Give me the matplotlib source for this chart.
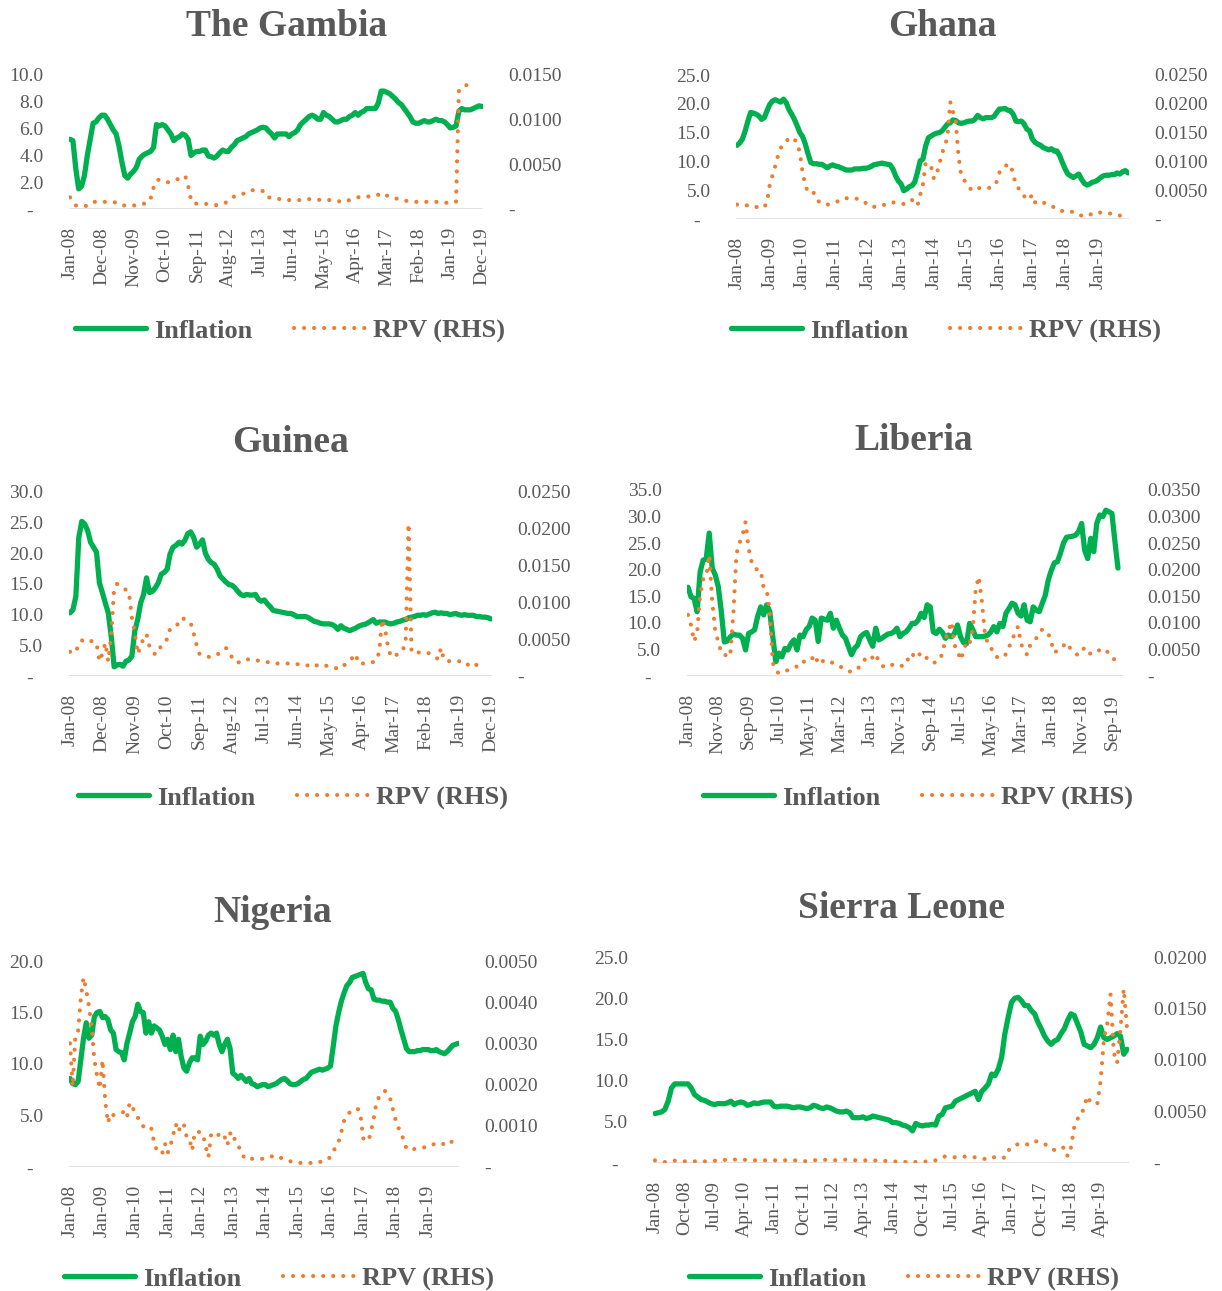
import numpy as np
import pandas as pd
import matplotlib
matplotlib.use("Agg")
import matplotlib.pyplot as plt
from matplotlib.ticker import FuncFormatter

plt.rcParams['font.family'] = ['Liberation Serif', 'DejaVu Serif']

nan = np.nan
months = pd.date_range('2008-01-01', periods=144, freq='MS')
month_labels = months.strftime('%b-%y')

# ---- data (inflation in %, RPV in thousandths) ----
gambia_infl = [5.2, 5.1, 3.0, 1.5, 1.7, 2.5, 4.0, 5.2, 6.4, 6.5, 6.8, 7.0,
               7.0, 6.7, 6.3, 5.9, 5.6, 4.7, 3.5, 2.5, 2.3, 2.6, 2.8, 3.1,
               3.7, 3.95, 4.1, 4.2, 4.3, 4.6, 6.3, 6.2, 6.3, 6.2, 5.9, 5.6,
               5.1, 5.3, 5.4, 5.6, 5.5, 5.2, 4.0, 4.2, 4.3, 4.3, 4.4, 4.4,
               3.95, 3.9, 3.8, 3.95, 4.2, 4.4, 4.3, 4.3, 4.6, 4.8, 5.1, 5.2,
               5.3, 5.4, 5.6, 5.7, 5.8, 5.9, 6.05, 6.1, 6.05, 5.8, 5.6, 5.3,
               5.6, 5.6, 5.6, 5.6, 5.4, 5.6, 5.7, 5.9, 6.3, 6.5, 6.7, 6.9,
               7.0, 6.9, 6.7, 6.7, 7.2, 7.0, 6.9, 6.7, 6.5, 6.5, 6.6, 6.7,
               6.7, 6.9, 7.0, 7.2, 7.0, 7.2, 7.3, 7.5, 7.5, 7.5, 7.5, 7.9,
               8.8, 8.8, 8.7, 8.6, 8.4, 8.2, 7.95, 7.8, 7.5, 7.2, 6.9, 6.5,
               6.4, 6.4, 6.5, 6.6, 6.5, 6.5, 6.6, 6.7, 6.6, 6.6, 6.5, 6.3,
               6.05, 6.1, 6.2, 7.3, 7.5, 7.4, 7.4, 7.4, 7.5, 7.6, 7.7, 7.65]
gambia_rpv = [1.3, 0.8, 0.4, 0.35, 0.3, 0.3, 0.4, 0.6, 0.8, 0.8, 0.8, 0.8,
              0.8, 0.8, 0.8, 0.8, 0.7, 0.5, 0.4, 0.4, 0.4, 0.4, 0.4, 0.4,
              0.5, 0.6, 0.6, 0.7, 1.2, 2.4, 3.2, 3.3, 3.2, 3.1, 3.0, 3.1,
              3.2, 3.3, 3.4, 3.6, 3.7, 2.6, 1.0, 0.6, 0.6, 0.6, 0.6, 0.6,
              0.5, 0.45, 0.4, 0.45, 0.5, 0.6, 0.7, 0.9, 1.2, 1.4, 1.5, 1.6,
              1.7, 1.8, 1.9, 2.1, 2.1, 2.1, 2.1, 2.0, 1.4, 1.3, 1.25, 1.2,
              1.15, 1.1, 1.05, 1.0, 1.0, 1.0, 1.0, 1.0, 1.0, 1.0, 1.05, 1.1,
              1.1, 1.1, 1.05, 1.0, 1.0, 1.0, 1.0, 1.0, 0.95, 0.9, 0.8, 0.8,
              0.9, 1.0, 1.1, 1.2, 1.3, 1.4, 1.4, 1.4, 1.4, 1.4, 1.5, 1.6,
              1.8, 1.7, 1.5, 1.4, 1.3, 1.2, 1.1, 1.0, 0.95, 0.9, 0.85, 0.8,
              0.8, 0.8, 0.8, 0.8, 0.8, 0.8, 0.8, 0.8, 0.8, 0.75, 0.7, 0.7,
              0.7, 0.75, 0.8, 13.3, 13.6, 13.8, 13.9, 13.9, 13.9, 13.9, nan, nan]

ghana_infl = [12.8, 13.2, 13.9, 15.3, 17.0, 18.5, 18.4, 18.2, 17.9, 17.3, 17.6, 18.8,
              19.9, 20.5, 20.7, 20.5, 20.3, 20.8, 20.2, 19.0, 18.2, 17.3, 16.2, 15.0,
              14.3, 13.0, 11.3, 9.8, 9.6, 9.6, 9.5, 9.5, 9.2, 8.9, 9.2, 9.4,
              9.2, 9.1, 8.9, 8.7, 8.5, 8.5, 8.5, 8.7, 8.7, 8.7, 8.8, 8.8,
              8.9, 9.1, 9.4, 9.5, 9.6, 9.7, 9.6, 9.5, 9.4, 8.7, 7.5, 6.6,
              6.1, 4.9, 5.2, 5.6, 5.8, 6.4, 8.1, 10.1, 10.4, 12.7, 14.1, 14.4,
              14.7, 14.9, 15.0, 15.3, 15.9, 16.5, 16.7, 17.2, 17.1, 16.7, 16.6, 16.7,
              16.9, 17.0, 17.0, 17.3, 18.0, 17.6, 17.4, 17.6, 17.6, 17.6, 17.8, 18.5,
              19.1, 19.1, 19.2, 18.9, 18.8, 18.2, 17.0, 16.9, 17.0, 16.5, 15.6, 15.3,
              13.9, 13.3, 13.0, 12.8, 12.4, 12.2, 12.0, 12.2, 11.8, 11.8, 11.0, 9.8,
              8.7, 7.8, 7.5, 7.2, 7.5, 7.8, 6.9, 6.2, 5.9, 6.1, 6.4, 6.5,
              6.8, 7.2, 7.5, 7.6, 7.6, 7.7, 7.7, 8.0, 7.8, 8.2, 8.4, 8.0]
ghana_rpv = [2.5, 2.4, 2.3, 2.3, 2.4, 2.4, 2.3, 2.1, 2.0, 2.0, 2.0, 3.0,
             6.0, 7.6, 9.2, 11.0, 12.3, 13.2, 13.5, 14.0, 14.2, 13.8, 13.3, 11.5,
             8.0, 5.9, 4.6, 4.5, 4.6, 3.5, 3.0, 2.7, 2.5, 2.5, 2.6, 2.8,
             2.9, 3.1, 3.4, 3.6, 3.6, 3.6, 3.6, 3.6, 3.5, 3.4, 3.2, 2.8,
             2.4, 2.1, 2.1, 2.2, 2.3, 2.3, 2.5, 2.7, 2.9, 2.9, 2.8, 2.8,
             2.7, 2.6, 2.6, 2.9, 3.3, 2.8, 2.3, 4.2, 6.0, 9.8, 9.4, 9.1,
             7.0, 7.8, 9.5, 11.5, 12.5, 14.5, 20.3, 18.6, 16.9, 11.0, 7.5, 6.8,
             6.2, 5.5, 4.9, 5.1, 5.3, 5.4, 5.4, 5.4, 5.4, 5.4, 5.8, 6.5,
             8.1, 8.9, 9.2, 9.4, 9.5, 7.8, 5.9, 5.3, 4.9, 4.0, 3.3, 3.6,
             4.2, 2.9, 3.0, 3.2, 2.9, 2.6, 2.4, 2.3, 2.0, 1.7, 1.4, 1.4,
             1.4, 1.4, 1.4, 1.1, 0.8, 0.7, 0.6, 0.5, 0.5, 0.7, 1.0, 1.2,
             1.2, 1.1, 1.0, 1.0, 1.0, 0.9, 0.8, 0.6, 0.6, nan, nan, nan]

guinea_infl = [10.3, 10.8, 13.0, 22.6, 25.2, 24.8, 23.7, 21.8, 21.0, 20.2, 15.2, 13.6,
               11.9, 10.3, 6.5, 1.5, 1.8, 1.9, 1.6, 2.4, 2.6, 3.2, 7.3, 9.2,
               11.9, 13.3, 16.0, 13.6, 13.8, 14.4, 15.2, 16.6, 16.9, 17.4, 19.9, 21.0,
               21.3, 21.8, 21.5, 22.1, 23.2, 23.5, 22.6, 21.0, 21.5, 22.2, 20.0, 19.0,
               18.5, 18.2, 17.4, 16.3, 15.8, 15.3, 14.9, 14.8, 14.4, 13.8, 13.3, 13.1,
               13.3, 13.2, 13.2, 13.3, 12.5, 12.2, 12.4, 11.8, 11.3, 10.7, 10.6, 10.5,
               10.4, 10.3, 10.2, 10.2, 10.0, 9.7, 9.7, 9.7, 9.7, 9.5, 9.2, 8.9,
               8.8, 8.6, 8.5, 8.5, 8.5, 8.4, 8.1, 7.6, 8.2, 7.8, 7.6, 7.4,
               7.6, 7.8, 8.1, 8.3, 8.4, 8.6, 8.9, 9.2, 8.6, 8.8, 8.8, 8.8,
               8.6, 8.5, 8.6, 8.8, 8.9, 9.1, 9.2, 9.5, 9.6, 9.7, 9.9, 9.9,
               10.0, 9.9, 10.1, 10.3, 10.4, 10.2, 10.3, 10.2, 10.2, 10.0, 10.1, 10.2,
               10.0, 9.9, 10.0, 9.9, 9.9, 9.9, 9.7, 9.7, 9.6, 9.6, 9.5, 9.3]
guinea_rpv = [3.3, 3.2, 3.2, 4.5, 4.8, 5.0, 5.0, 4.8, 4.6, 4.5, 2.0, 3.0,
              4.5, 2.0, 5.5, 12.0, 12.5, 12.2, 12.0, 11.7, 11.4, 8.0, 6.0, 3.0,
              4.0, 5.2, 5.7, 4.0, 3.4, 2.9, 3.4, 4.1, 4.6, 5.0, 6.4, 6.7,
              6.8, 7.2, 7.9, 7.7, 7.4, 7.2, 5.8, 4.2, 3.0, 2.8, 2.7, 2.6,
              2.6, 2.7, 2.9, 3.2, 3.5, 3.8, 3.0, 2.6, 2.0, 1.8, 2.0, 2.2,
              2.3, 2.2, 2.1, 2.1, 2.1, 2.0, 2.0, 1.9, 1.8, 1.7, 1.7, 1.7,
              1.7, 1.7, 1.7, 1.7, 1.7, 1.6, 1.6, 1.5, 1.5, 1.4, 1.3, 1.2,
              1.5, 1.6, 1.5, 1.4, 1.3, 1.2, 1.1, 1.0, 1.0, 1.4, 1.8, 2.1,
              2.5, 3.0, 1.7, 1.7, 1.7, 1.7, 1.8, 1.9, 2.1, 3.2, 7.7, 6.4,
              4.0, 2.6, 2.7, 2.9, 3.0, 3.5, 4.5, 20.7, 3.2, 3.2, 3.2, 3.2,
              3.1, 3.1, 3.1, 2.9, 2.6, 2.3, 3.8, 2.2, 2.1, 2.0, 2.0, 2.0,
              2.0, 2.0, 2.0, 1.6, 1.2, 1.3, 1.5, 1.6, 1.6, nan, nan, nan]

liberia_infl = [16.7, 14.9, 14.6, 12.1, 19.6, 21.8, 22.0, 26.9, 20.3, 19.0, 16.8, 12.1,
                6.4, 6.6, 7.4, 7.9, 7.7, 7.7, 7.1, 4.9, 8.0, 8.3, 8.7, 11.2,
                13.0, 11.5, 13.4, 12.1, 7.4, 2.7, 4.3, 3.6, 5.2, 4.9, 6.1, 6.8,
                4.9, 7.7, 7.4, 8.7, 9.3, 10.9, 10.5, 6.5, 10.9, 10.7, 10.5, 11.8,
                9.0, 10.5, 9.0, 7.7, 7.1, 5.5, 4.0, 5.2, 5.8, 7.4, 7.9, 8.2,
                6.8, 5.6, 9.0, 6.8, 7.1, 7.5, 7.9, 8.0, 8.3, 9.0, 7.4, 8.0,
                8.3, 9.0, 9.9, 9.9, 10.5, 11.8, 11.0, 13.4, 13.0, 8.3, 8.0, 8.8,
                8.2, 7.1, 7.7, 7.4, 8.0, 9.6, 7.4, 6.3, 6.1, 9.9, 8.8, 7.4,
                7.4, 7.4, 7.5, 7.7, 8.3, 9.3, 8.3, 9.9, 9.3, 11.8, 12.7, 13.7,
                13.4, 11.8, 11.3, 13.4, 10.5, 10.2, 13.0, 12.4, 12.1, 13.7, 15.2, 18.1,
                19.9, 21.3, 21.5, 23.1, 25.0, 26.1, 26.2, 26.3, 26.5, 27.2, 28.7, 23.7,
                22.1, 25.9, 23.4, 28.7, 30.3, 30.0, 31.2, 30.9, 30.6, 25.3, 20.3, nan]
liberia_rpv = [11.5, 9.6, 6.5, 8.0, 15.2, 18.2, 18.6, 22.8, 14.0, 8.3, 6.5, 4.3,
               4.2, 3.5, 4.2, 12.0, 23.0, 25.0, 26.5, 29.0, 24.0, 21.5, 20.3, 20.0,
               19.9, 16.5, 16.2, 12.0, 2.5, 1.0, 0.5, 0.7, 0.9, 1.1, 1.3, 1.6,
               1.8, 2.7, 2.7, 2.7, 2.7, 3.3, 4.0, 2.2, 2.6, 3.0, 2.9, 2.7,
               2.4, 2.1, 1.8, 1.6, 1.2, 0.9, 0.8, 1.0, 1.3, 2.1, 2.8, 3.6,
               3.2, 3.5, 4.2, 2.7, 2.0, 1.6, 1.8, 2.0, 2.2, 2.0, 1.8, 2.0,
               2.1, 3.8, 4.3, 3.3, 3.8, 4.4, 3.8, 3.3, 2.9, 2.4, 2.7, 3.0,
               4.2, 6.9, 8.5, 10.2, 5.8, 4.9, 3.0, 4.6, 6.5, 6.1, 8.5, 16.2,
               18.7, 14.4, 8.3, 6.0, 5.5, 4.0, 3.6, 3.3, 3.6, 4.1, 5.5, 6.5,
               8.3, 9.3, 6.0, 4.9, 4.0, 5.8, 6.4, 7.1, 7.8, 8.8, 8.4, 8.0,
               6.3, 4.4, 4.8, 5.2, 5.7, 6.3, 5.4, 4.6, 4.2, 3.9, 4.6, 5.4,
               4.8, 4.1, 4.4, 4.6, 4.9, 5.2, 4.8, 4.3, 3.8, 2.9, nan, nan]

nigeria_infl = [8.6, 8.1, 8.0, 8.3, 10.4, 12.5, 14.0, 12.5, 12.8, 14.6, 15.0, 15.1,
                14.5, 14.6, 14.3, 13.3, 13.0, 11.4, 11.2, 11.1, 10.4, 12.0, 13.0, 14.1,
                14.6, 15.8, 15.1, 15.0, 13.0, 14.1, 13.0, 13.7, 13.5, 13.3, 12.7, 11.9,
                12.4, 11.4, 12.8, 11.2, 12.4, 10.7, 9.6, 9.3, 10.1, 10.6, 10.6, 10.4,
                12.7, 11.9, 12.2, 12.8, 13.0, 12.8, 13.0, 11.9, 11.2, 11.9, 12.4, 11.5,
                9.1, 8.9, 8.6, 8.9, 8.6, 8.3, 8.6, 8.1, 8.0, 7.8, 7.9, 8.0,
                8.0, 7.8, 7.9, 8.0, 8.1, 8.3, 8.5, 8.6, 8.4, 8.1, 8.0, 8.0,
                8.1, 8.3, 8.5, 8.6, 8.9, 9.2, 9.3, 9.4, 9.5, 9.4, 9.5, 9.6,
                9.8, 11.7, 13.7, 15.0, 16.1, 16.9, 17.6, 17.9, 18.4, 18.5, 18.6, 18.7,
                18.8, 17.9, 17.3, 17.2, 16.3, 16.2, 16.2, 16.1, 16.1, 16.0, 16.0, 15.4,
                15.1, 14.3, 13.3, 12.4, 11.5, 11.2, 11.2, 11.2, 11.3, 11.3, 11.4, 11.4,
                11.4, 11.3, 11.3, 11.4, 11.2, 11.1, 11.0, 11.2, 11.5, 11.8, 11.9, 12.0]
nigeria_rpv = [3.0, 1.95, 3.2, 3.3, 4.1, 4.6, 4.3, 3.9, 3.4, 2.6, 2.2, 1.9,
               2.6, 1.6, 1.07, 1.3, 1.26, 1.28, 1.3, 1.32, 1.34, 1.2, 1.56, 1.46,
               1.3, 1.2, 1.05, 0.99, 0.93, 0.89, 0.93, 0.6, 0.4, 0.33, 0.33, 0.57,
               0.34, 0.5, 0.77, 1.04, 0.85, 1.06, 1.02, 0.73, 0.7, 0.4, 0.85, 0.85,
               0.85, 0.8, 0.5, 0.24, 0.77, 0.8, 0.85, 0.75, 0.67, 0.73, 0.53, 0.81,
               0.85, 0.59, 0.5, 0.42, 0.25, 0.18, 0.19, 0.2, 0.2, 0.2, 0.2, 0.2,
               0.2, 0.22, 0.25, 0.27, 0.28, 0.25, 0.21, 0.18, 0.16, 0.14, 0.13, 0.12,
               0.11, 0.1, 0.1, 0.1, 0.1, 0.1, 0.1, 0.1, 0.12, 0.14, 0.16, 0.18,
               0.25, 0.37, 0.5, 0.61, 0.85, 1.12, 1.25, 1.32, 1.35, 1.38, 1.42, 1.3,
               0.7, 0.65, 0.63, 0.89, 1.2, 1.6, 1.7, 1.8, 1.85, 1.78, 1.66, 1.4,
               1.14, 0.95, 0.85, 0.63, 0.45, 0.41, 0.42, 0.44, 0.45, 0.46, 0.47, 0.48,
               0.49, 0.52, 0.55, 0.58, 0.59, 0.57, 0.55, 0.53, 0.55, 0.65, 0.72, nan]

sierra_infl = [6.0, 6.1, 6.2, 6.5, 7.5, 9.1, 9.6, 9.6, 9.6, 9.6, 9.6, 9.1,
               8.3, 8.0, 7.7, 7.6, 7.4, 7.2, 7.1, 7.2, 7.2, 7.2, 7.3, 7.5,
               7.1, 7.3, 7.4, 7.3, 7.0, 7.1, 7.3, 7.2, 7.3, 7.4, 7.4, 7.4,
               6.9, 6.8, 6.9, 6.9, 6.9, 6.8, 6.7, 6.8, 6.8, 6.7, 6.6, 6.7,
               7.0, 6.9, 6.7, 6.6, 6.8, 6.7, 6.5, 6.3, 6.2, 6.2, 6.3, 6.1,
               5.5, 5.5, 5.5, 5.6, 5.4, 5.5, 5.7, 5.6, 5.5, 5.4, 5.3, 5.2,
               4.9, 4.9, 4.8, 4.6, 4.5, 4.3, 3.9, 4.8, 4.6, 4.5, 4.6, 4.6,
               4.7, 4.6, 5.7, 5.9, 6.7, 6.8, 6.9, 7.5, 7.7, 7.9, 8.1, 8.3,
               8.5, 8.7, 7.7, 8.7, 9.1, 9.6, 10.8, 10.6, 11.4, 12.8, 15.7, 17.7,
               19.5, 20.0, 20.1, 19.7, 19.1, 19.1, 18.5, 18.1, 17.1, 16.3, 15.4, 14.8,
               14.4, 14.8, 15.0, 15.7, 16.3, 17.3, 18.1, 17.9, 16.9, 15.9, 14.4, 14.2,
               14.0, 14.4, 15.2, 16.5, 15.2, 15.0, 15.2, 15.4, 15.7, 15.4, 13.2, 13.8]
sierra_rpv = [0.26, 0.2, 0.15, 0.1, 0.12, 0.16, 0.23, 0.22, 0.2, 0.16, 0.16, 0.16,
              0.16, 0.16, 0.16, 0.16, 0.16, 0.18, 0.22, 0.26, 0.28, 0.3, 0.32, 0.33,
              0.33, 0.33, 0.33, 0.31, 0.29, 0.27, 0.26, 0.26, 0.26, 0.26, 0.26, 0.26,
              0.26, 0.26, 0.26, 0.26, 0.26, 0.26, 0.26, 0.24, 0.2, 0.16, 0.2, 0.24,
              0.26, 0.28, 0.3, 0.32, 0.3, 0.28, 0.26, 0.28, 0.3, 0.32, 0.33, 0.3,
              0.27, 0.26, 0.26, 0.26, 0.26, 0.26, 0.25, 0.24, 0.23, 0.22, 0.2, 0.18,
              0.16, 0.14, 0.12, 0.1, 0.1, 0.1, 0.1, 0.1, 0.1, 0.12, 0.14, 0.16,
              0.2, 0.26, 0.4, 0.55, 0.65, 0.62, 0.58, 0.55, 0.57, 0.6, 0.63, 0.65,
              0.6, 0.55, 0.49, 0.44, 0.38, 0.33, 0.45, 0.6, 0.62, 0.55, 0.5, 1.2,
              1.5, 1.65, 1.85, 1.87, 1.83, 1.8, 1.85, 2.1, 2.1, 1.95, 1.82, 1.72,
              1.5, 1.25, 1.2, 1.4, 1.53, 0.65, 1.5, 3.5, 4.3, 4.46, 5.5, 6.5,
              5.85, 5.8, 5.76, 8.0, 12.1, 13.5, 16.4, 10.7, 9.7, 13.0, 16.9, 13.0]

# ---- layout (pixels in a 1222 x 1291 figure) ----
W, H = 1222, 1291
GREEN = '#00B050'
ORANGE = '#ED7D31'
GREY = '#595959'

panels = [
    # title, infl, rpv, left max, left step, right max, right step, tick every,
    # axes box (l, t, r, b), title pos, legend centre
    ('The Gambia', gambia_infl, gambia_rpv, 10, 2, 0.015, 0.005, 11,
     (68.6, 75, 483.4, 209), (287, 26), (290, 331)),
    ('Ghana', ghana_infl, ghana_rpv, 25, 5, 0.025, 0.005, 12,
     (735.6, 75, 1129.4, 219), (942, 26), (946, 331)),
    ('Guinea', guinea_infl, guinea_rpv, 30, 5, 0.025, 0.005, 11,
     (68.5, 492, 492.5, 676), (291, 442), (293, 798)),
    ('Liberia', liberia_infl, liberia_rpv, 35, 5, 0.035, 0.005, 10,
     (686.5, 490, 1122.5, 676), (914, 441), (918, 798)),
    ('Nigeria', nigeria_infl, nigeria_rpv, 20, 5, 0.005, 0.001, 12,
     (68.6, 961, 459.4, 1167), (273, 912), (279, 1279)),
    ('Sierra Leone', sierra_infl, sierra_rpv, 25, 5, 0.020, 0.005, 9,
     (653.3, 957, 1128.7, 1163), (901, 908), (904, 1279)),
]

fig = plt.figure(figsize=(W / 100, H / 100), dpi=100)
x = np.arange(144)

for (title, infl, rpv, lmax, lstep, rmax, rstep, every,
     bx, tpos, lpos) in panels:
    l, t, r, b = bx
    ax = fig.add_axes([l / W, 1 - b / H, (r - l) / W, (b - t) / H])
    ax2 = ax.twinx()

    ax.axhline(0, color='#D9D9D9', lw=1.8, zorder=0)
    g, = ax.plot(x, infl, color=GREEN, lw=3.8, solid_capstyle='round',
                 solid_joinstyle='round', zorder=2)
    o, = ax2.plot(x, np.array(rpv) * 1e-3, color=ORANGE, lw=3.0,
                  linestyle=(0, (0.01, 2.4)), dash_capstyle='round')

    ax.set_xlim(-0.5, 143.5)
    ax.set_ylim(0, lmax)
    ax2.set_ylim(0, rmax)
    ax.set_yticks(np.arange(0, lmax + lstep / 2, lstep))
    ax2.set_yticks(np.arange(0, rmax + rstep / 2, rstep))
    ax.yaxis.set_major_formatter(FuncFormatter(
        lambda v, p: '-  ' if abs(v) < 1e-9 else f'{v:.1f}'))
    ax2.yaxis.set_major_formatter(FuncFormatter(
        lambda v, p: '-' if abs(v) < 1e-12 else f'{v:.4f}'))

    ticks = x[::every]
    ax.set_xticks(ticks)
    ax.set_xticklabels(month_labels[ticks], rotation=90)

    for a in (ax, ax2):
        for s in a.spines.values():
            s.set_visible(False)
        a.tick_params(length=0, labelsize=14, colors=GREY)
    ax.tick_params(axis='y', pad=18)
    ax2.tick_params(axis='y', pad=18)
    ax.tick_params(axis='x', pad=13)

    fig.text(tpos[0] / W, 1 - tpos[1] / H, title, ha='center', va='center',
             fontsize=27, fontweight='bold', color=GREY)

    fig.legend([g, o], ['Inflation', 'RPV (RHS)'], loc='center',
               bbox_to_anchor=(lpos[0] / W, 1 - lpos[1] / H), ncol=2,
               frameon=False, handlelength=2.7, handletextpad=0.3,
               columnspacing=1.6,
               prop={'size': 19, 'weight': 'bold'}, labelcolor=GREY)

fig.savefig('out.png', dpi=100)
